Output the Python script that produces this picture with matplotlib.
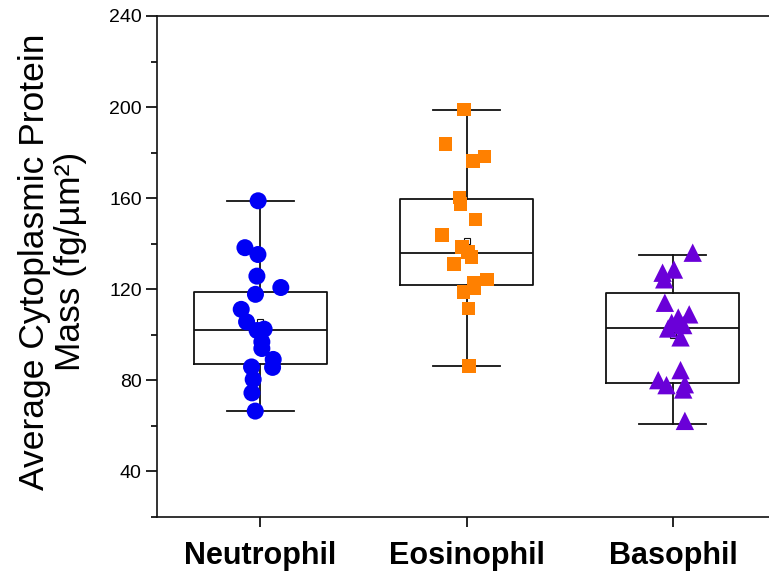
import matplotlib
matplotlib.use('Agg')
import matplotlib.pyplot as plt
from matplotlib.ticker import MultipleLocator

plt.rcParams['font.family'] = ['Liberation Sans', 'DejaVu Sans']

groups = ['Neutrophil', 'Eosinophil', 'Basophil']

# box statistics (whiskers go to min / max)
q1 = [87.3, 121.6, 78.8]
medians = [102.0, 135.8, 103.1]
q3 = [118.8, 159.6, 118.1]
whislo = [66.5, 86.3, 60.9]
whishi = [158.8, 198.7, 134.9]
means = [105.5, 141.2, 100.0]

# individual cells: values and horizontal jitter offsets
neut_vals = [158.8, 138.2, 135.2, 125.7, 120.7, 117.7, 111.1, 105.6, 102.4, 101.8,
             96.8, 93.9, 89.1, 85.6, 85.8, 80.3, 74.4, 66.4]
neut_jit = [-0.01, -0.074, -0.011, -0.016, 0.10, -0.023, -0.092, -0.066, 0.019, -0.015,
            0.008, 0.008, 0.063, 0.06, -0.042, -0.034, -0.04, -0.024]

eos_vals = [199.0, 183.7, 178.2, 176.4, 160.3, 157.4, 150.6, 143.7, 138.6, 136.4,
            134.2, 131.0, 124.3, 122.8, 118.7, 120.5, 111.5, 86.1]
eos_jit = [-0.013, -0.102, 0.087, 0.031, -0.034, -0.029, 0.044, -0.118, -0.021, 0.006,
           0.023, -0.062, 0.099, 0.034, -0.015, 0.039, 0.01, 0.011]

baso_vals = [136.0, 128.6, 127.2, 124.3, 114.0, 108.9, 107.5, 105.2, 104.2, 102.7,
             98.8, 84.4, 80.0, 77.8, 78.2, 75.9, 62.1]
baso_jit = [0.096, 0.005, -0.05, -0.042, -0.039, 0.079, 0.026, -0.006, 0.05, -0.023,
            0.037, 0.037, -0.071, -0.031, 0.058, 0.05, 0.058]

fig = plt.figure(figsize=(7.69, 5.79), dpi=100)
ax = fig.add_axes([0.2042, 0.1076, 0.805, 0.8648])

stats = []
for i, name in enumerate(groups):
    stats.append({'label': name, 'q1': q1[i], 'med': medians[i], 'q3': q3[i],
                  'whislo': whislo[i], 'whishi': whishi[i], 'mean': means[i]})

line = dict(color='#111111', linewidth=1.3)
ax.bxp(stats, positions=[1, 2, 3], widths=0.645, capwidths=0.325,
       showfliers=False, showmeans=True,
       boxprops=line, whiskerprops=line, capprops=line, medianprops=line,
       meanprops=dict(marker='s', markersize=4, markerfacecolor='white',
                      markeredgecolor='#111111', markeredgewidth=0.8),
       zorder=1)

ax.scatter([1 + j for j in neut_jit], neut_vals, s=150, marker='o',
           color='#0000F5', edgecolors='none', zorder=3)
ax.scatter([2 + j for j in eos_jit], eos_vals, s=95, marker='s',
           color='#FF8000', edgecolors='none', zorder=3)
ax.scatter([3 + j for j in baso_jit], baso_vals, s=175, marker='^',
           color='#6A00D8', edgecolors='none', zorder=3)

ax.set_xlim(0.5, 3.5)
ax.set_ylim(20, 240)
ax.set_xticks([1, 2, 3])
ax.set_xticklabels(groups, fontsize=22, fontweight='bold')
ax.yaxis.set_major_locator(MultipleLocator(40))
ax.yaxis.set_minor_locator(MultipleLocator(20))
ax.set_yticks([40, 80, 120, 160, 200, 240])
ax.tick_params(axis='y', which='major', labelsize=14, length=8, width=1.2, direction='out', pad=3)
ax.tick_params(axis='y', which='minor', length=4, width=1.2, direction='out')
ax.tick_params(axis='x', which='major', length=7.5, width=1.2, direction='out', pad=10)
for sp in ax.spines.values():
    sp.set_linewidth(1.2)
    sp.set_color('#111111')

ax.set_ylabel('Average Cytoplasmic Protein\nMass (fg/µm²)', fontsize=25.5,
              linespacing=1.1)
ax.yaxis.set_label_coords(-0.113, 0.51)

fig.savefig('out.png', dpi=100)
